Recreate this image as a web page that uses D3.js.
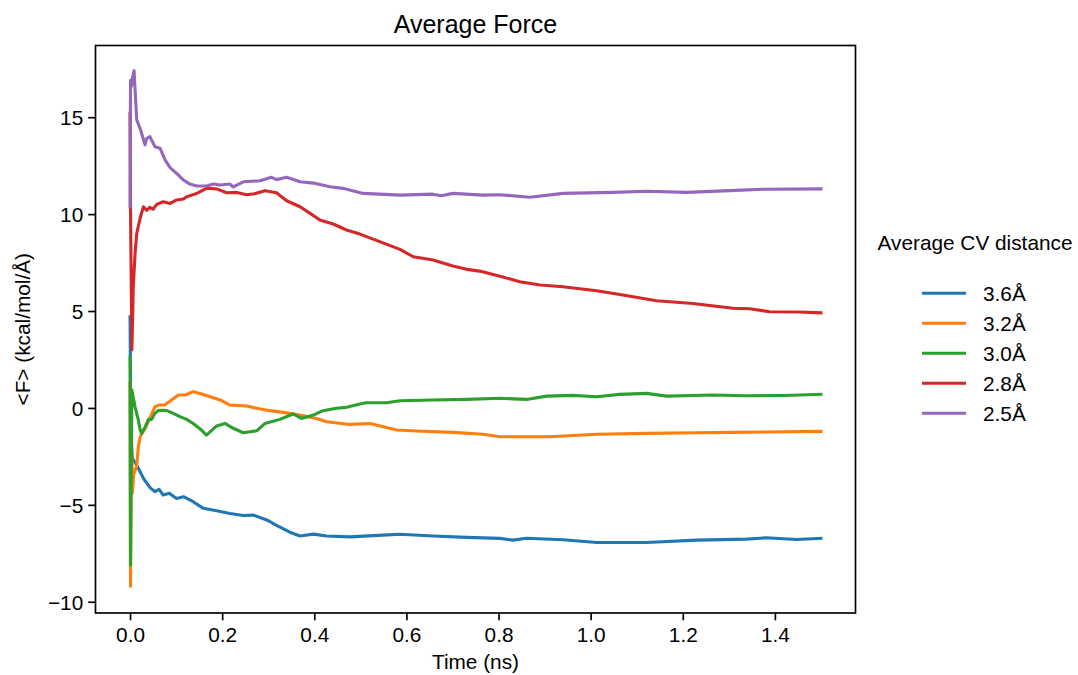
<!DOCTYPE html>
<html>
<head>
<meta charset="utf-8">
<script src="https://cdn.jsdelivr.net/npm/d3@7"></script>
<style>
  body { margin: 0; background: #fff; }
  svg { display: block; }
  text { font-family: "Liberation Sans", Arial, Helvetica, sans-serif; fill: #000; }
</style>
</head>
<body>
<svg id="chart" width="1078" height="675"></svg>
<script>
// ---- Data (time in ns, force in kcal/mol/Å) ----
const seriesNames = ["3.6Å", "3.2Å", "3.0Å", "2.8Å", "2.5Å"];
const seriesColors = ["#1f77b4", "#ff7f0e", "#2ca02c", "#d62728", "#9467bd"];

const force36 = [[0,4.7],[0.002,-1.5],[0.005,-2.6],[0.0145,-2.95],[0.029,-3.63],[0.043,-4.1],[0.054,-4.32],[0.063,-4.2],[0.072,-4.49],[0.085,-4.4],[0.101,-4.67],[0.116,-4.58],[0.137,-4.84],[0.159,-5.18],[0.188,-5.30],[0.217,-5.45],[0.246,-5.55],[0.268,-5.53],[0.297,-5.78],[0.318,-6.06],[0.347,-6.41],[0.369,-6.61],[0.398,-6.51],[0.427,-6.61],[0.477,-6.65],[0.549,-6.56],[0.586,-6.52],[0.658,-6.61],[0.731,-6.68],[0.803,-6.73],[0.831,-6.82],[0.861,-6.72],[0.94,-6.8],[1.013,-6.94],[1.121,-6.94],[1.23,-6.82],[1.338,-6.77],[1.381,-6.70],[1.447,-6.79],[1.5,-6.73]];

const force32 = [[0,1.3],[0.001,-9.2],[0.003,-0.9],[0.005,-4.4],[0.008,-3.4],[0.0145,-3.0],[0.018,-2.0],[0.022,-1.49],[0.033,-1.05],[0.043,-0.54],[0.054,0.06],[0.062,0.15],[0.075,0.15],[0.09,0.41],[0.105,0.67],[0.12,0.67],[0.137,0.84],[0.152,0.75],[0.174,0.58],[0.196,0.41],[0.217,0.15],[0.253,0.1],[0.275,-0.02],[0.304,-0.14],[0.333,-0.23],[0.369,-0.37],[0.405,-0.54],[0.427,-0.71],[0.477,-0.85],[0.521,-0.8],[0.55,-0.97],[0.579,-1.14],[0.622,-1.19],[0.701,-1.26],[0.767,-1.36],[0.803,-1.49],[0.911,-1.49],[1.013,-1.36],[1.121,-1.31],[1.23,-1.28],[1.309,-1.26],[1.5,-1.21]];

const force30 = [[0,2.64],[0.001,-8.1],[0.004,0.92],[0.0109,0.06],[0.0145,-0.3],[0.018,-0.62],[0.022,-1.14],[0.025,-1.31],[0.033,-0.97],[0.04,-0.59],[0.047,-0.59],[0.054,-0.28],[0.061,-0.14],[0.07,-0.12],[0.08,-0.14],[0.094,-0.28],[0.108,-0.45],[0.123,-0.59],[0.137,-0.8],[0.155,-1.14],[0.166,-1.4],[0.188,-0.93],[0.206,-0.8],[0.224,-1.05],[0.246,-1.28],[0.275,-1.18],[0.293,-0.8],[0.325,-0.59],[0.354,-0.31],[0.372,-0.54],[0.398,-0.37],[0.419,-0.14],[0.448,-0.02],[0.47,0.03],[0.499,0.2],[0.513,0.27],[0.557,0.27],[0.586,0.37],[0.658,0.41],[0.731,0.44],[0.803,0.5],[0.861,0.44],[0.904,0.61],[0.962,0.65],[1.013,0.58],[1.063,0.7],[1.121,0.75],[1.165,0.61],[1.266,0.67],[1.338,0.63],[1.42,0.64],[1.5,0.7]];

const force28 = [[0,15.2],[0.001,10.3],[0.004,3.0],[0.007,6.25],[0.011,8.0],[0.0145,9.0],[0.022,9.8],[0.029,10.38],[0.036,10.2],[0.043,10.35],[0.05,10.25],[0.058,10.5],[0.072,10.64],[0.087,10.55],[0.101,10.73],[0.116,10.78],[0.123,10.9],[0.145,11.07],[0.166,11.33],[0.174,11.33],[0.188,11.3],[0.21,11.1],[0.232,11.12],[0.253,11.0],[0.27,11.05],[0.293,11.21],[0.318,11.1],[0.34,10.69],[0.369,10.38],[0.391,10.04],[0.412,9.7],[0.441,9.49],[0.47,9.18],[0.499,8.97],[0.542,8.58],[0.586,8.18],[0.615,7.8],[0.658,7.63],[0.701,7.32],[0.731,7.15],[0.759,7.06],[0.803,6.8],[0.846,6.51],[0.89,6.34],[0.94,6.25],[1.013,6.05],[1.07,5.83],[1.143,5.53],[1.222,5.39],[1.309,5.14],[1.345,5.12],[1.389,4.96],[1.45,4.95],[1.5,4.91]];

const force25 = [[0,10.4],[0.001,16.9],[0.003,16.6],[0.005,17.0],[0.0087,17.4],[0.0145,14.86],[0.019,14.6],[0.023,14.34],[0.0325,13.57],[0.036,13.9],[0.043,14.0],[0.054,13.48],[0.065,13.4],[0.076,12.8],[0.087,12.4],[0.101,12.1],[0.116,11.76],[0.13,11.55],[0.145,11.45],[0.166,11.45],[0.181,11.55],[0.195,11.5],[0.217,11.55],[0.224,11.4],[0.246,11.67],[0.282,11.72],[0.307,11.9],[0.318,11.78],[0.34,11.9],[0.369,11.67],[0.398,11.6],[0.434,11.41],[0.462,11.33],[0.506,11.07],[0.586,10.98],[0.657,11.03],[0.676,10.95],[0.701,11.07],[0.766,10.98],[0.803,11.0],[0.868,10.87],[0.94,11.07],[1.049,11.12],[1.121,11.18],[1.208,11.12],[1.302,11.21],[1.374,11.28],[1.5,11.3]];

const seriesData = [force36, force32, force30, force28, force25];

const xTicks = [0.0, 0.2, 0.4, 0.6, 0.8, 1.0, 1.2, 1.4];
const yTicks = [-10, -5, 0, 5, 10, 15];

const titleText = "Average Force";
const xLabel = "Time (ns)";
const yLabel = "<F> (kcal/mol/Å)";
const legendTitle = "Average CV distance";

// ---- Layout ----
const svg = d3.select("#chart");
const plot = { left: 95.5, right: 855.5, top: 45.5, bottom: 613 };

const x = d3.scaleLinear().domain([-0.075, 1.575]).range([plot.left, plot.right]);
const y = d3.scaleLinear().domain([-10.58, 18.70]).range([plot.bottom, plot.top]);

const fontSize = 20.8;

// clip
svg.append("defs").append("clipPath").attr("id", "clip")
  .append("rect").attr("x", plot.left).attr("y", plot.top)
  .attr("width", plot.right - plot.left).attr("height", plot.bottom - plot.top);

// lines
const line = d3.line().x(d => x(d[0])).y(d => y(d[1]));
const gLines = svg.append("g").attr("clip-path", "url(#clip)");
seriesData.forEach((data, i) => {
  gLines.append("path")
    .datum(data)
    .attr("d", line)
    .attr("fill", "none")
    .attr("stroke", seriesColors[i])
    .attr("stroke-width", 3.1)
    .attr("stroke-linejoin", "round")
    .attr("stroke-linecap", "square");
});

// axes
const fmtX = d3.format(".1f");
const fmtY = v => (v < 0 ? "\u2212" + Math.abs(v) : String(v));

const xAxis = d3.axisBottom(x).tickValues(xTicks).tickFormat(fmtX).tickSizeOuter(0).tickSize(7.3).tickPadding(5);
const yAxis = d3.axisLeft(y).tickValues(yTicks).tickFormat(fmtY).tickSizeOuter(0).tickSize(7.3).tickPadding(5);

const gx = svg.append("g").attr("transform", `translate(0,${plot.bottom})`).call(xAxis);
const gy = svg.append("g").attr("transform", `translate(${plot.left},0)`).call(yAxis);
[gx, gy].forEach(g => {
  g.select(".domain").remove();
  g.selectAll(".tick line").attr("stroke", "#000").attr("stroke-width", 1.67);
  g.selectAll(".tick text").attr("font-size", fontSize)
    .attr("font-family", "'Liberation Sans', Arial, sans-serif").attr("fill", "#000");
});
gx.selectAll(".tick text").attr("dy", "0.78em");
gy.selectAll(".tick text").attr("dy", "0.35em");

// frame
svg.append("rect")
  .attr("x", plot.left).attr("y", plot.top)
  .attr("width", plot.right - plot.left).attr("height", plot.bottom - plot.top)
  .attr("fill", "none").attr("stroke", "#000").attr("stroke-width", 1.67);

// title & labels
const cx = (plot.left + plot.right) / 2;
svg.append("text").attr("x", cx).attr("y", 33).attr("text-anchor", "middle")
  .attr("font-size", 25).text(titleText);
svg.append("text").attr("x", cx).attr("y", 669).attr("text-anchor", "middle")
  .attr("font-size", fontSize).text(xLabel);
svg.append("text")
  .attr("transform", `translate(30,${(plot.top + plot.bottom) / 2}) rotate(-90)`)
  .attr("text-anchor", "middle").attr("font-size", fontSize).text(yLabel);

// legend
const legend = svg.append("g");
legend.append("text").attr("x", 975).attr("y", 249.5).attr("text-anchor", "middle")
  .attr("font-size", fontSize).text(legendTitle);
seriesNames.forEach((name, i) => {
  const yy = 293.3 + i * 30;
  legend.append("line").attr("x1", 922).attr("x2", 966).attr("y1", yy).attr("y2", yy)
    .attr("stroke", seriesColors[i]).attr("stroke-width", 3.1);
  legend.append("text").attr("x", 983).attr("y", yy).attr("dy", "0.35em")
    .attr("font-size", fontSize).text(name);
});
</script>
</body>
</html>
